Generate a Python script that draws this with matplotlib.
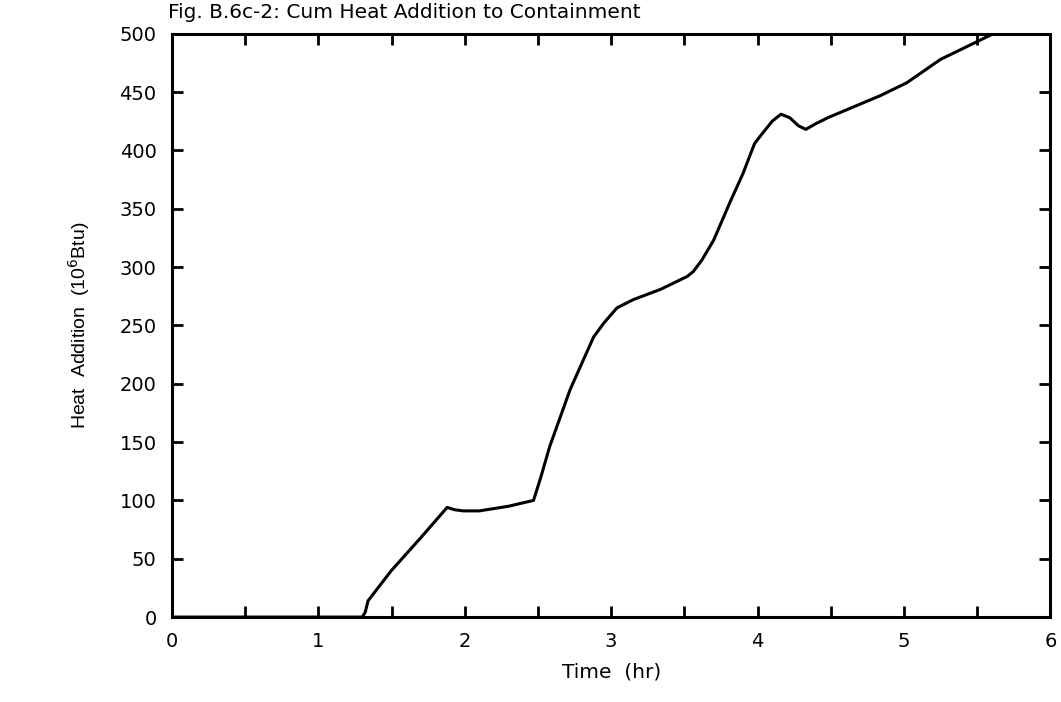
import numpy as np
import matplotlib
matplotlib.use("Agg")
import matplotlib.pyplot as plt
from matplotlib.ticker import MultipleLocator

# cumulative heat addition
time_hr = [0.0, 1.0, 1.30, 1.32, 1.34, 1.50, 1.70, 1.88, 1.93, 1.99, 2.10,
           2.30, 2.47, 2.52, 2.58, 2.72, 2.88, 2.95, 3.04, 3.15, 3.34,
           3.52, 3.56, 3.62, 3.70, 3.81, 3.90, 3.98, 4.03, 4.10, 4.16,
           4.22, 4.28, 4.33, 4.40, 4.48, 4.84, 5.02, 5.25, 5.48, 5.61]
heat_addition = [0, 0, 0, 4, 14, 40, 68, 94, 92, 91, 91,
                 95, 100, 120, 146, 195, 240, 252, 265, 272, 281,
                 292, 296, 306, 323, 355, 380, 406, 414, 425, 431,
                 428, 421, 418, 423, 428, 447, 458, 478, 492, 500]

x_ticks = [0, 1, 2, 3, 4, 5, 6]
y_ticks = [0, 50, 100, 150, 200, 250, 300, 350, 400, 450, 500]

fig = plt.figure(figsize=(10.61, 7.02), dpi=100)
ax = fig.add_axes([0.162, 0.121, 0.828, 0.831])

ax.plot(time_hr, heat_addition, color="black", lw=2.2, solid_joinstyle="round")

ax.set_xlim(0, 6)
ax.set_ylim(0, 500)
ax.set_xticks(x_ticks)
ax.set_yticks(y_ticks)
ax.xaxis.set_minor_locator(MultipleLocator(0.5))
ax.tick_params(which="both", direction="in", top=True, right=True,
               length=8, width=2, labelsize=14)
ax.tick_params(axis="x", pad=11)
ax.tick_params(axis="y", pad=11)
for s in ax.spines.values():
    s.set_linewidth(2.2)

ax.set_xlabel("Time  (hr)", fontsize=14.5, labelpad=8)
ax.set_ylabel("Heat  Addition  (10$^6$Btu)", fontsize=14,
              family=["Liberation Sans", "DejaVu Sans"], labelpad=20)
fig.text(0.158, 0.968, "Fig. B.6c-2: Cum Heat Addition to Containment",
         fontsize=14.5, ha="left", va="bottom")

fig.savefig("out.png", dpi=100)
